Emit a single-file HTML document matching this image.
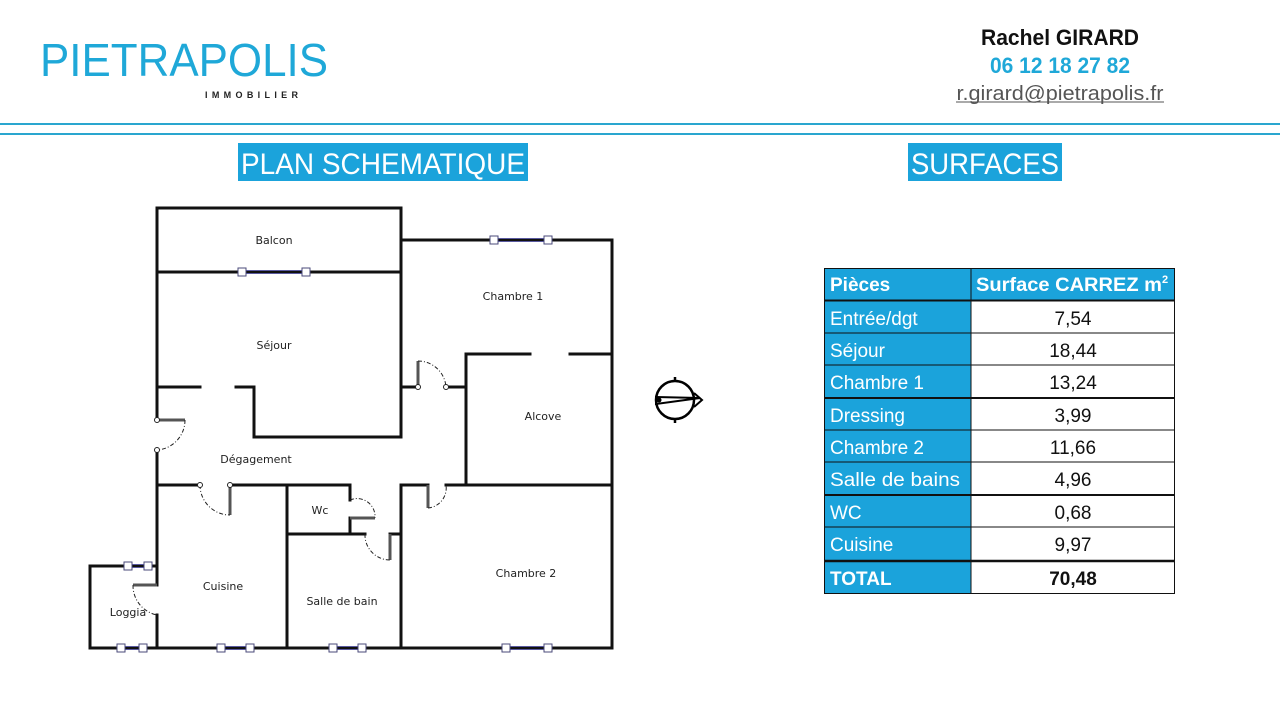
<!DOCTYPE html>
<html><head><meta charset="utf-8"><style>
html,body{margin:0;padding:0;background:#fff;width:1280px;height:720px;overflow:hidden}
svg{display:block}
</style></head><body>
<svg width="1280" height="720" viewBox="0 0 1280 720" xmlns="http://www.w3.org/2000/svg">
<!-- logo -->
<text x="40" y="76" font-family="Liberation Sans, sans-serif" font-size="46" fill="#1fa8d8" textLength="288" lengthAdjust="spacingAndGlyphs" font-weight="normal">PIETRAPOLIS</text>
<text x="205" y="98" font-family="Liberation Sans, sans-serif" font-size="9" font-weight="bold" fill="#222" textLength="93" lengthAdjust="spacing">IMMOBILIER</text>
<!-- contact -->
<text x="1060" y="45" text-anchor="middle" font-family="Liberation Sans, sans-serif" font-size="22" font-weight="bold" fill="#111" textLength="158" lengthAdjust="spacingAndGlyphs">Rachel GIRARD</text>
<text x="1060" y="73" text-anchor="middle" font-family="Liberation Sans, sans-serif" font-size="22" font-weight="bold" fill="#1fa8d8" textLength="140" lengthAdjust="spacingAndGlyphs">06 12 18 27 82</text>
<text x="1060" y="100" text-anchor="middle" font-family="Liberation Sans, sans-serif" font-size="20" fill="#555" textLength="207" lengthAdjust="spacingAndGlyphs">r.girard@pietrapolis.fr</text>
<line x1="956" y1="102" x2="1164" y2="102" stroke="#555" stroke-width="1"/>
<!-- header lines -->
<rect x="0" y="123" width="1280" height="2" fill="#2aa6cf"/>
<rect x="0" y="133" width="1280" height="2" fill="#2aa6cf"/>
<!-- titles -->
<rect x="238" y="143" width="290" height="38" fill="#1ba3db"/>
<text x="383" y="174" text-anchor="middle" font-family="Liberation Sans, sans-serif" font-size="30" fill="#fff" textLength="284" lengthAdjust="spacingAndGlyphs">PLAN SCHEMATIQUE</text>
<rect x="908" y="143" width="154" height="38" fill="#1ba3db"/>
<text x="985" y="174" text-anchor="middle" font-family="Liberation Sans, sans-serif" font-size="30" fill="#fff" textLength="148" lengthAdjust="spacingAndGlyphs">SURFACES</text>

<!-- floor plan walls -->
<g stroke="#111" stroke-width="3" fill="none" stroke-linecap="square">
<polyline points="157,272 157,208 401,208 401,272"/>
<polyline points="401,240 612,240 612,648 90,648 90,566 157,566"/>
<line x1="157" y1="272" x2="401" y2="272"/>
<line x1="157" y1="272" x2="157" y2="420"/>
<line x1="157" y1="450" x2="157" y2="585"/>
<line x1="157" y1="615" x2="157" y2="648"/>
<line x1="157" y1="387" x2="200" y2="387"/>
<polyline points="236,387 254,387 254,437 401,437 401,272"/>
<line x1="401" y1="387" x2="418" y2="387"/>
<line x1="446" y1="387" x2="466" y2="387"/>
<line x1="466" y1="354" x2="466" y2="485"/>
<line x1="466" y1="354" x2="530" y2="354"/>
<line x1="570" y1="354" x2="612" y2="354"/>
<line x1="157" y1="485" x2="200" y2="485"/>
<polyline points="230,485 350,485 350,500"/>
<line x1="287" y1="485" x2="287" y2="648"/>
<line x1="350" y1="518" x2="350" y2="534"/>
<line x1="287" y1="534" x2="365" y2="534"/>
<line x1="390" y1="534" x2="401" y2="534"/>
<line x1="401" y1="485" x2="401" y2="648"/>
<line x1="401" y1="485" x2="428" y2="485"/>
<line x1="446" y1="485" x2="612" y2="485"/>
</g>
<!-- door leaves -->
<g stroke="#555" stroke-width="3" fill="none">
<line x1="418" y1="361" x2="418" y2="387"/>
<line x1="157" y1="420" x2="185" y2="420"/>
<line x1="230" y1="485" x2="230" y2="515"/>
<line x1="350" y1="518" x2="375" y2="518"/>
<line x1="390" y1="534" x2="390" y2="560"/>
<line x1="428" y1="485" x2="428" y2="508"/>
<line x1="133" y1="585" x2="157" y2="585"/>
</g>
<g stroke="#222" stroke-width="1" fill="none" stroke-dasharray="4,2,1,2">
<path d="M418,361 A28,28 0 0 1 446,387"/>
<path d="M185,420 A30,30 0 0 1 157,450"/>
<path d="M200,485 A30,30 0 0 0 230,515"/>
<path d="M350,500 A18,18 0 0 1 375,518"/>
<path d="M365,534 A25,25 0 0 0 390,560"/>
<path d="M428,508 A20,20 0 0 0 446,485"/>
<path d="M133,585 A30,30 0 0 0 157,615"/>
</g>
<g fill="#fff" stroke="#222" stroke-width="1">
<circle cx="418" cy="387" r="2.5"/><circle cx="446" cy="387" r="2.5"/>
<circle cx="157" cy="420" r="2.5"/><circle cx="157" cy="450" r="2.5"/>
<circle cx="200" cy="485" r="2.5"/><circle cx="230" cy="485" r="2.5"/>
</g>
<!-- windows -->
<g stroke="#5a5aa0" stroke-width="1">
<line x1="242" y1="270.5" x2="306" y2="270.5"/><line x1="242" y1="273.5" x2="306" y2="273.5"/>
<line x1="494" y1="238.5" x2="548" y2="238.5"/><line x1="494" y1="241.5" x2="548" y2="241.5"/>
<line x1="121" y1="646.5" x2="143" y2="646.5"/><line x1="121" y1="649.5" x2="143" y2="649.5"/>
<line x1="221" y1="646.5" x2="250" y2="646.5"/><line x1="221" y1="649.5" x2="250" y2="649.5"/>
<line x1="333" y1="646.5" x2="362" y2="646.5"/><line x1="333" y1="649.5" x2="362" y2="649.5"/>
<line x1="506" y1="646.5" x2="548" y2="646.5"/><line x1="506" y1="649.5" x2="548" y2="649.5"/>
<line x1="128" y1="564.5" x2="148" y2="564.5"/><line x1="128" y1="567.5" x2="148" y2="567.5"/>
</g>
<g fill="#fff" stroke="#4a4a7a" stroke-width="1">
<rect x="238" y="268" width="8" height="8"/><rect x="302" y="268" width="8" height="8"/>
<rect x="490" y="236" width="8" height="8"/><rect x="544" y="236" width="8" height="8"/>
<rect x="117" y="644" width="8" height="8"/><rect x="139" y="644" width="8" height="8"/>
<rect x="217" y="644" width="8" height="8"/><rect x="246" y="644" width="8" height="8"/>
<rect x="329" y="644" width="8" height="8"/><rect x="358" y="644" width="8" height="8"/>
<rect x="502" y="644" width="8" height="8"/><rect x="544" y="644" width="8" height="8"/>
<rect x="124" y="562" width="8" height="8"/><rect x="144" y="562" width="8" height="8"/>
</g>
<!-- room labels -->
<g font-family="DejaVu Sans, sans-serif" font-size="11" fill="#222" text-anchor="middle">
<text x="274" y="244">Balcon</text>
<text x="274" y="349">Séjour</text>
<text x="513" y="300">Chambre 1</text>
<text x="543" y="420">Alcove</text>
<text x="256" y="463">Dégagement</text>
<text x="320" y="514">Wc</text>
<text x="223" y="590">Cuisine</text>
<text x="342" y="605">Salle de bain</text>
<text x="526" y="577">Chambre 2</text>
<text x="128" y="616">Loggia</text>
</g>
<!-- compass -->
<g stroke="#000" stroke-width="2.5" fill="none">
<circle cx="675" cy="400" r="19"/>
<line x1="675" y1="377" x2="675" y2="381"/><line x1="675" y1="419" x2="675" y2="423"/>
<path d="M656,397 L700,398 L656,404 Z" stroke-width="2"/>
<path d="M694,393 L702,400 L694,407" stroke-width="2"/>
</g>
<circle cx="659" cy="400" r="2.5" fill="#000"/>

<!-- table -->
<g font-family="Liberation Sans, sans-serif" font-size="19">
<rect x="824" y="268" width="147" height="326" fill="#1ba3db"/>
<rect x="971" y="268" width="204" height="32" fill="#1ba3db"/>
<rect x="824" y="560" width="147" height="34" fill="#1ba3db"/>
<rect x="971" y="300" width="204" height="294" fill="#fff"/>
<g stroke="#111" stroke-width="1" fill="none">
<rect x="824.5" y="268.5" width="350" height="325"/>
<line x1="971" y1="268" x2="971" y2="594"/>
<line x1="824" y1="300.5" x2="1175" y2="300.5" stroke-width="2"/>
<line x1="824" y1="333" x2="1175" y2="333"/>
<line x1="824" y1="365" x2="1175" y2="365"/>
<line x1="824" y1="398" x2="1175" y2="398" stroke-width="2"/>
<line x1="824" y1="430" x2="1175" y2="430"/>
<line x1="824" y1="462" x2="1175" y2="462"/>
<line x1="824" y1="495" x2="1175" y2="495" stroke-width="2"/>
<line x1="824" y1="527" x2="1175" y2="527"/>
<line x1="824" y1="561" x2="1175" y2="561" stroke-width="2.5"/>
</g>
<text x="830" y="291" font-weight="bold" fill="#fff">Pièces</text>
<text x="976" y="291" font-weight="bold" fill="#fff" textLength="186" lengthAdjust="spacingAndGlyphs">Surface CARREZ m</text>
<text x="1162" y="283" font-weight="bold" fill="#fff" font-size="11">2</text>
<g fill="#fff">
<text x="830" y="325">Entrée/dgt</text>
<text x="830" y="357">Séjour</text>
<text x="830" y="389">Chambre 1</text>
<text x="830" y="422">Dressing</text>
<text x="830" y="454">Chambre 2</text>
<text x="830" y="486" textLength="130" lengthAdjust="spacingAndGlyphs">Salle de bains</text>
<text x="830" y="519">WC</text>
<text x="830" y="551">Cuisine</text>
<text x="830" y="585" font-weight="bold">TOTAL</text>
</g>
<g fill="#111" text-anchor="middle">
<text x="1073" y="325">7,54</text>
<text x="1073" y="357">18,44</text>
<text x="1073" y="389">13,24</text>
<text x="1073" y="422">3,99</text>
<text x="1073" y="454">11,66</text>
<text x="1073" y="486">4,96</text>
<text x="1073" y="519">0,68</text>
<text x="1073" y="551">9,97</text>
<text x="1073" y="585" font-weight="bold">70,48</text>
</g>
</g>
</svg>
</body></html>
